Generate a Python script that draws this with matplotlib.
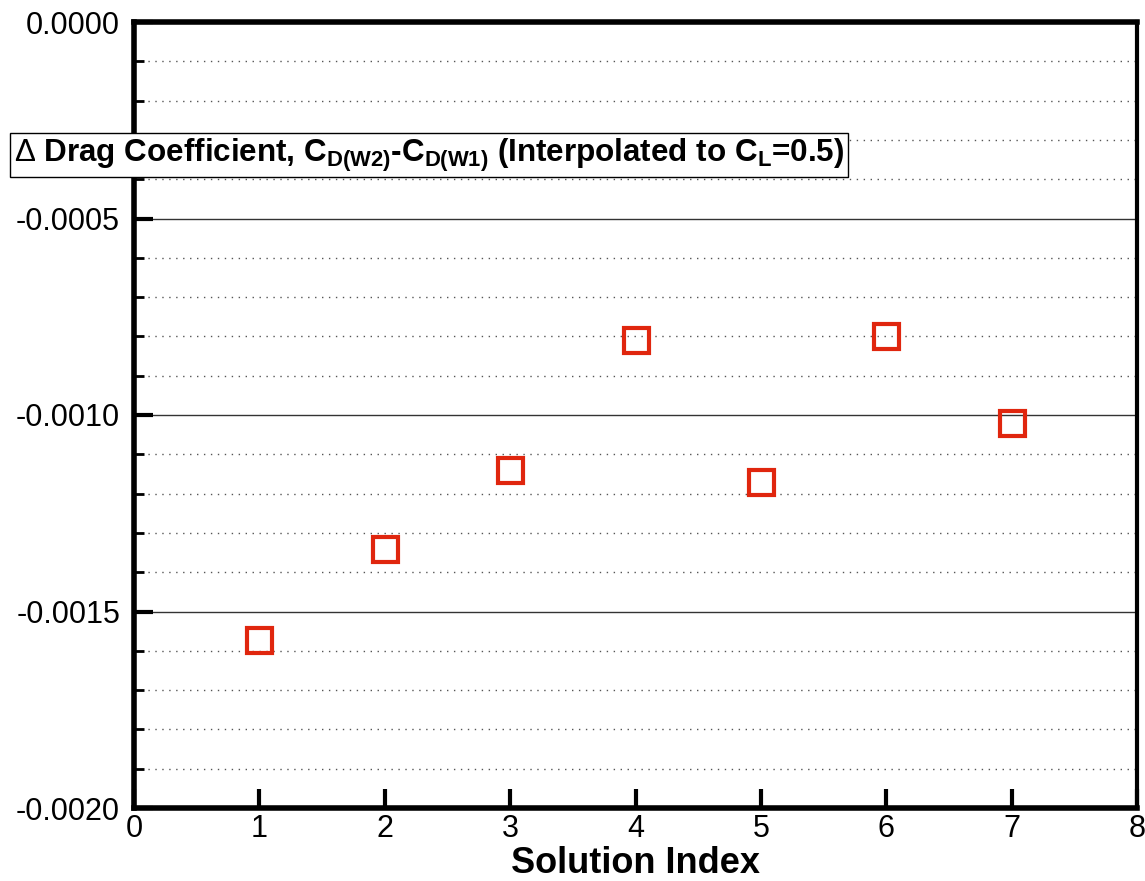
import matplotlib
matplotlib.use("Agg")
import matplotlib.pyplot as plt
from matplotlib.ticker import MultipleLocator, FormatStrFormatter

plt.rcParams['font.family'] = ['Liberation Sans', 'DejaVu Sans']
plt.rcParams['mathtext.fontset'] = 'custom'
plt.rcParams['mathtext.rm'] = 'Liberation Sans'
plt.rcParams['mathtext.bf'] = 'Liberation Sans:bold'
plt.rcParams['mathtext.it'] = 'Liberation Sans:italic'

solution_index = [1, 2, 3, 4, 5, 6, 7]
delta_cd = [-0.001573, -0.001341, -0.001140, -0.000809, -0.001171, -0.000800, -0.001021]

W, H = 1145, 881
fig = plt.figure(figsize=(W / 100, H / 100), dpi=100)
ax = fig.add_axes([134 / W, 1 - 808 / H, (1137 - 134) / W, (808 - 22) / H])

ax.set_xlim(0, 8)
ax.set_ylim(-0.002, 0.0)
ax.xaxis.set_major_locator(MultipleLocator(1))
ax.yaxis.set_major_locator(MultipleLocator(0.0005))
ax.yaxis.set_minor_locator(MultipleLocator(0.0001))
ax.yaxis.set_major_formatter(FormatStrFormatter('%.4f'))

ax.grid(True, which='major', axis='y', color='#333333', linewidth=1.0, linestyle='-')
ax.grid(True, which='minor', axis='y', color='#555555', linewidth=1.0, linestyle=(0, (1, 4)))
ax.set_axisbelow(True)

for s in ax.spines.values():
    s.set_linewidth(4)
ax.spines['right'].set_linewidth(3)

ax.tick_params(axis='both', which='major', direction='in', length=14, width=3,
               labelsize=22, pad=10)
ax.tick_params(axis='y', which='minor', direction='in', length=7, width=2)
ax.tick_params(axis='x', which='major', pad=4)

ax.plot(solution_index, delta_cd, linestyle='none', marker='s', markersize=18,
        markerfacecolor='none', markeredgecolor='#e0260e', markeredgewidth=3, clip_on=False)

ax.set_xlabel('Solution Index', fontsize=26, fontweight='bold', labelpad=2)

fig.text(14 / W, 1 - 155 / H,
         r'$\Delta$ Drag Coefficient, C$_{\mathbf{D(W2)}}$-C$_{\mathbf{D(W1)}}$ (Interpolated to C$_{\mathbf{L}}$=0.5)',
         fontsize=22.6, fontweight='bold', ha='left', va='center',
         bbox=dict(boxstyle='square,pad=0.12', facecolor='white', edgecolor='black', linewidth=1))

fig.savefig('out.png', dpi=100)
